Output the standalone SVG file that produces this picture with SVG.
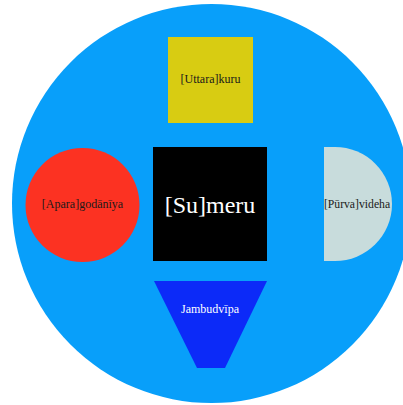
<svg xmlns="http://www.w3.org/2000/svg" width="403" height="405" viewBox="0 0 403 405">
<style>
.t{font-family:"Liberation Serif","DejaVu Serif",serif;font-size:12px;text-anchor:middle;fill:#1a1a1a}
.w{fill:#ffffff}
</style>
<rect width="403" height="405" fill="#ffffff"/>
<g id="ocean"><circle cx="211.5" cy="203.5" r="199.5" fill="#089ffa"/></g>
<g id="connectors"></g>
<g id="uttarakuru"><rect x="168" y="37" width="85" height="86" fill="#d8cc12"/><text class="t" x="210.5" y="83">[Uttara]kuru</text></g>
<g id="sumeru"><rect x="153" y="147" width="114" height="114" fill="#000000"/><text class="t w" x="210" y="213" style="font-size:24px">[Su]meru</text></g>
<g id="aparagodaniya"><circle cx="82.5" cy="205" r="57" fill="#fc3222"/><text class="t" x="82.5" y="208">[Apara]godānīya</text></g>
<g id="purvavideha"><path d="M324,147 H335 A57,57 0 0 1 335,261 H324 Z" fill="#c8dcdc"/><text class="t" x="357" y="208" style="font-size:11.7px">[Pūrva]videha</text></g>
<g id="jambudvipa"><polygon points="154,281 267,281 225,368 197,368" fill="#0c2af8"/><text class="t w" x="210" y="313">Jambudvīpa</text></g>
</svg>
